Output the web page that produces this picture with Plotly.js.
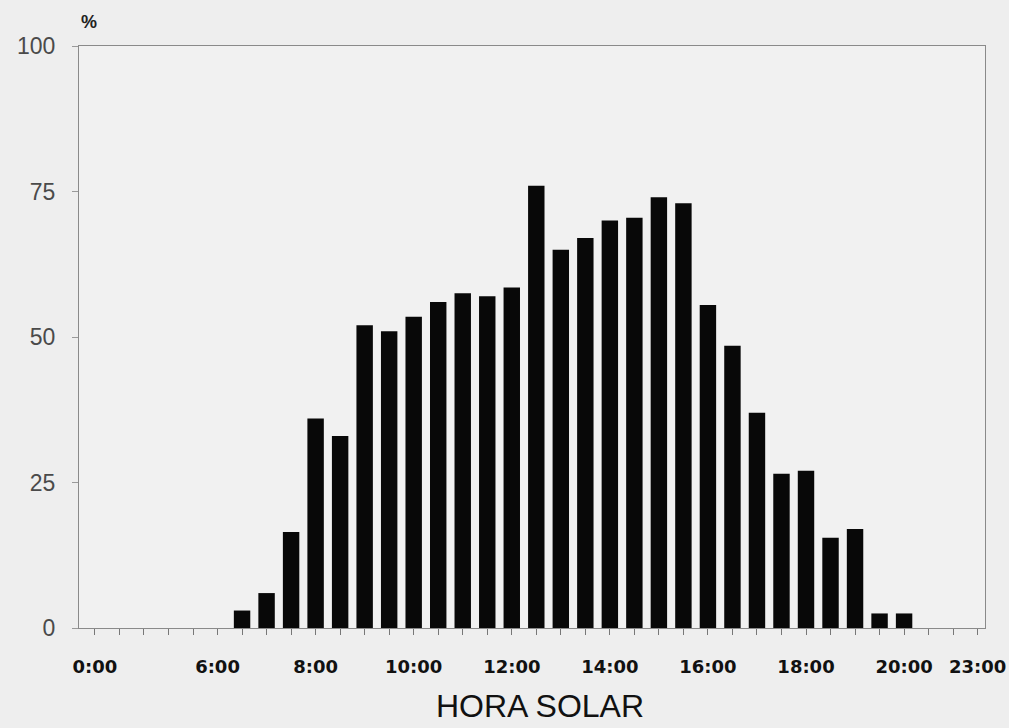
<!DOCTYPE html>
<html>
<head>
<meta charset="utf-8">
<script src="https://cdn.plot.ly/plotly-3.0.1.min.js"></script>
<style>
  html, body { margin: 0; padding: 0; background: #eeeeee; }
  #chart { width: 1009px; height: 728px; }
</style>
</head>
<body>
<div id="chart"></div>
<script>
// Axis slots (tick positions) and their labels
const slotLabels = ["0:00", "", "", "", "", "6:00", "", "", "", "8:00", "", "", "", "10:00", "", "", "",
  "12:00", "", "", "", "14:00", "", "", "", "16:00", "", "", "", "18:00", "", "", "", "20:00", "", "", "23:00"];
// Names of the axis slots
const slotNames = ["0:00", "1:12", "2:24", "3:36", "4:48", "6:00", "6:30", "7:00", "7:30", "8:00", "8:30", "9:00", "9:30",
  "10:00", "10:30", "11:00", "11:30", "12:00", "12:30", "13:00", "13:30", "14:00", "14:30", "15:00", "15:30",
  "16:00", "16:30", "17:00", "17:30", "18:00", "18:30", "19:00", "19:30", "20:00", "21:00", "22:00", "23:00"];
// Half-hour times of the bars
const barTimes = ["6:30", "7:00", "7:30", "8:00", "8:30", "9:00", "9:30", "10:00", "10:30", "11:00", "11:30",
  "12:00", "12:30", "13:00", "13:30", "14:00", "14:30", "15:00", "15:30", "16:00", "16:30", "17:00", "17:30",
  "18:00", "18:30", "19:00", "19:30", "20:00"];
const percent = [3, 6, 16.5, 36, 33, 52, 51, 53.5, 56, 57.5, 57, 58.5, 76, 65, 67, 70, 70.5, 74, 73,
  55.5, 48.5, 37, 26.5, 27, 15.5, 17, 2.5, 2.5];
const yTicks = [0, 25, 50, 75, 100];

const slotIndex = slotNames.map((_, i) => i);
const barX = barTimes.map(t => slotNames.indexOf(t));

const trace = {
  type: "bar",
  x: barX,
  y: percent,
  width: 0.67,
  marker: { color: "#080808", line: { width: 0 } },
  hoverinfo: "skip"
};

const layout = {
  width: 1009,
  height: 728,
  margin: { l: 79, r: 24, t: 46, b: 100 },
  paper_bgcolor: "#eeeeee",
  plot_bgcolor: "#f1f1f1",
  showlegend: false,
  xaxis: {
    range: [-0.65, 36.3],
    tickmode: "array",
    tickvals: slotIndex,
    ticktext: slotLabels,
    ticks: "outside",
    ticklen: 6,
    tickcolor: "#777",
    tickwidth: 1,
    ticklabelstandoff: 16,
    tickfont: { family: "DejaVu Sans", size: 18, color: "#111", weight: "bold" },
    showgrid: false,
    zeroline: false,
    showline: true,
    linecolor: "#8a8a8a",
    linewidth: 1,
    mirror: true
  },
  yaxis: {
    range: [0, 100],
    tickmode: "array",
    tickvals: yTicks,
    ticktext: yTicks.map(String),
    ticks: "outside",
    ticklen: 6,
    tickcolor: "#999",
    ticklabelstandoff: 12,
    tickfont: { family: "Liberation Sans", size: 23, color: "#4a4a4a" },
    showgrid: false,
    zeroline: false,
    showline: true,
    linecolor: "#8a8a8a",
    linewidth: 1,
    mirror: true
  },
  annotations: [
    {
      text: "HORA SOLAR",
      xref: "paper", yref: "paper",
      x: (540 - 79) / 906, y: -(706 - 628) / 582,
      xanchor: "center", yanchor: "middle",
      showarrow: false,
      font: { family: "Liberation Sans", size: 32, color: "#111" }
    },
    {
      text: "%",
      xref: "paper", yref: "paper",
      x: (89 - 79) / 906, y: 1 + (46 - 22) / 582,
      xanchor: "center", yanchor: "middle",
      showarrow: false,
      font: { family: "Liberation Sans", size: 18, color: "#222", weight: "bold" }
    }
  ]
};

Plotly.newPlot("chart", [trace], layout, { staticPlot: true, displayModeBar: false });
</script>
</body>
</html>
